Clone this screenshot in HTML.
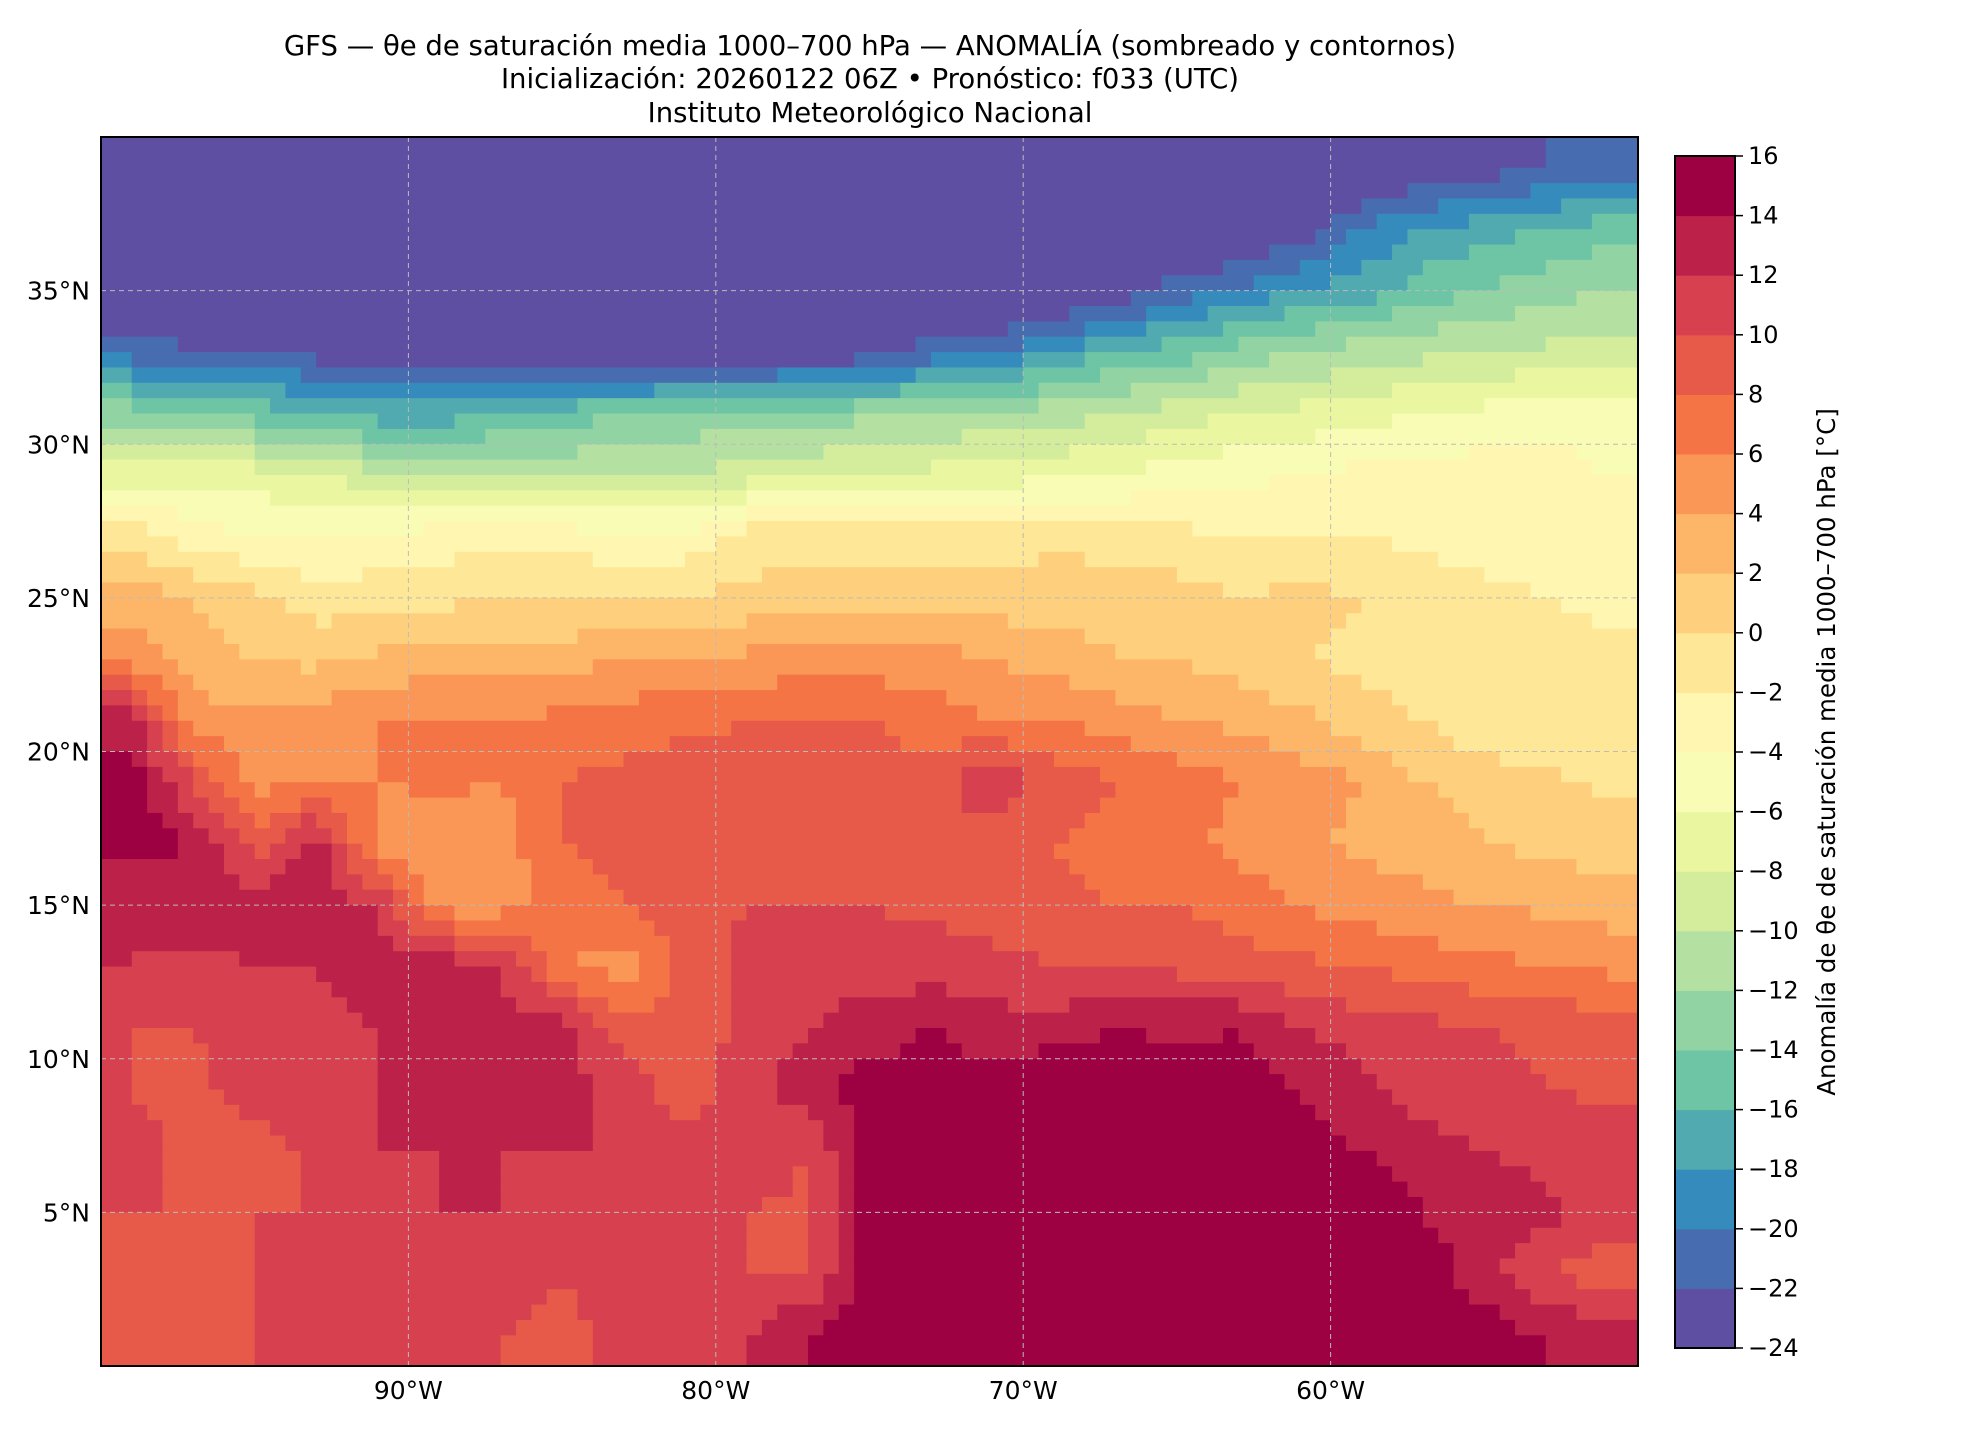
<!DOCTYPE html>
<html><head><meta charset="utf-8">
<style>
body{margin:0;background:#fff;width:1980px;height:1440px;overflow:hidden;font-family:"DejaVu Sans","Liberation Sans",sans-serif;}
svg{position:absolute;left:0;top:0}
</style></head>
<body>
<svg id="chart" width="1980" height="1440" viewBox="0 0 1980 1440" xmlns="http://www.w3.org/2000/svg" font-family="DejaVu Sans, Liberation Sans, sans-serif">
<g font-size="27.5" text-anchor="middle" fill="#000">
<text x="870" y="55">GFS — θe de saturación media 1000–700 hPa — ANOMALÍA (sombreado y contornos)</text>
<text x="870" y="88">Inicialización: 20260122 06Z  •  Pronóstico: f033 (UTC)</text>
<text x="870" y="122">Instituto Meteorológico Nacional</text>
</g>
<defs><clipPath id="mapclip"><rect x="101" y="137" width="1537" height="1229"/></clipPath></defs>
<g id="cells" clip-path="url(#mapclip)"></g>
<g id="grid"></g>
<rect x="101" y="137" width="1537" height="1229" fill="none" stroke="#000" stroke-width="2"/>
<g id="axes" font-size="25"></g>
<g id="cbar" font-size="24"></g>
<text transform="translate(1835,752) rotate(-90)" text-anchor="middle" font-size="24.5">Anomalía de θe de saturación media 1000–700 hPa [°C]</text>
</svg>
<script>
// grid data: rows lat 39..1 step -2, cols lon -99..-51 step 2
const lats=[39,37,35,33,31,29,27,25,23,21,19,17,15,13,11,9,7,5,3,1];
const lons=[-99,-97,-95,-93,-91,-89,-87,-85,-83,-81,-79,-77,-75,-73,-71,-69,-67,-65,-63,-61,-59,-57,-55,-53,-51];
const levels=[-24,-22,-20,-18,-16,-14,-12,-10,-8,-6,-4,-2,0,2,4,6,8,10,12,14,16];
const row39=[-27,-27,-27,-27,-27,-27,-27,-27,-27,-27,-27,-27,-27,-27,-27,-27,-27,-27,-27,-26,-25,-24,-23,-22,-21];
const row37=[-27,-27,-27,-27,-27,-27,-27,-27,-27,-27,-27,-27,-27,-27,-27,-27,-27,-26,-24.5,-23,-20,-18,-17,-16,-15];
const row35=[-26,-26,-26,-26,-26,-26,-26,-26,-26,-26,-26,-26,-26,-26,-26,-25,-24,-21,-20,-18,-17,-15,-14,-13,-12];
const row33=[-21,-21.5,-22,-23,-23.5,-24,-24.5,-24.5,-25,-25,-24.5,-24,-23,-21,-20,-18,-16,-15,-13,-12,-11,-10.5,-10,-9.5,-9];
const row31=[-13,-14,-15,-16,-17,-17,-16,-15,-14,-13.5,-13,-13,-12.5,-12,-11.5,-11,-10,-9,-8,-7.5,-7,-6,-5.5,-5,-5];
const row29=[-7,-6.5,-7,-8,-9.5,-10,-10.5,-10.5,-10,-10,-9,-8.5,-8,-7.5,-7,-6.5,-6,-5,-4.5,-4,-3.5,-3,-3,-3,-4];
const row27=[-1,-3,-4,-4,-3.5,-3,-3,-3,-3.5,-3.5,-1,-1,-1,-1,-1,-0.5,-1,-1.5,-2,-2,-2,-2.5,-3,-3,-3];
const row25=[3,2,0.5,-1,-1,-0.5,0,0,0,0,0.5,1,1,1,1,1,1.5,1,0,0.5,0,-1,-1.5,-2,-2.5];
const row23=[5,3,2,1.5,2.5,3,3,3,4,4.5,4.5,5,5,5,4,3,2,2,1,0,-0.5,-1,-1,-1,-1.5];
const row21=[13,5,4.5,5,6,6,6,6.5,7,7.5,8,8,8,7,6,6,5,4,3.5,2.5,1,0,-1.5,-1.5,-1];
const row19=[15,10,5,6,6,6.5,6,8,8.5,9,8.5,9,9,9,12,9,8,7,6,5,4,2,1,0.5,-0.5];
const row17=[15,14,9,13,5,4,5,8,8.5,9,9,9.5,9.5,9,8.5,8,7,6.5,5.5,4.5,3.5,3,2,1.5,1];
const row15=[12,13,13,13,12,5,5,7,8,9,10,10,10,9.5,9,8.5,8,8,7,6,5,4.5,4,3.5,3];
const row13=[12,11.5,12,12,13,13.5,12,6,5,9,10.5,11,11,11,10.5,10,10,9.5,9,8.5,8,7,6.5,6,5.5];
const row11=[10,10,10.5,11,12,12.5,13,13,9,8,11,12,13,14,13,13,14,13.5,14,12,11,10.5,10,9.5,9];
const row9=[10,9.5,11,11.5,12,12,12.5,13,11,9,11,13,15,15,15,16,16,15.5,15,14,12.5,11,10.5,10,9.5];
const row7=[10.5,9.5,9,10.5,12,12,12,12,12,11,11.5,10,15,16,16,16,16,16,16,15,14,13,12,11.5,11];
const row5=[10,10,10,10,11.5,12,12,11,11,11.5,10,9.5,15,16,16,16,16,16,16,16,15,14,13,12.5,11];
const row3=[9,9.5,10,10,11.5,12,11,10,11,12,10,10,15,16,16,16,16,16,16,16,16,15,13,10,9];
const row1=[9.5,9.5,10,11,11,10,10,9.5,10.5,11.5,12,14,16,16,16,16,16,16,16,16,16,15,15,14,13];
const field=[row39,row37,row35,row33,row31,row29,row27,row25,row23,row21,row19,row17,row15,row13,row11,row9,row7,row5,row3,row1];
const cbTicks=[16,14,12,10,8,6,4,2,0,-2,-4,-6,-8,-10,-12,-14,-16,-18,-20,-22,-24];
const lonTicks=[-90,-80,-70,-60];
const latTicks=[35,30,25,20,15,10,5];

const NS='http://www.w3.org/2000/svg';
const X0=101,X1=1638,Y0=137,Y1=1366,LON0=-100,LON1=-50,LAT0=0,LAT1=40;
function xOf(lon){return X0+(lon-LON0)/(LON1-LON0)*(X1-X0);}
function yOf(lat){return Y1-(lat-LAT0)/(LAT1-LAT0)*(Y1-Y0);}
const anchors=['#9e0142','#d53e4f','#f46d43','#fdae61','#fee08b','#ffffbf','#e6f598','#abdda4','#66c2a5','#3288bd','#5e4fa2'];
function hex(h){return [1,3,5].map(i=>parseInt(h.substr(i,2),16));}
function cmap(t){
  const u=(1-t)*10;const i=Math.min(9,Math.floor(u));const f=u-i;
  const a=hex(anchors[i]),b=hex(anchors[i+1]);
  return 'rgb('+a.map((v,k)=>Math.round(v+(b[k]-v)*f)).join(',')+')';
}
const nb=levels.length-1;
function binColor(k){return cmap(k/(nb-1));}
function colorOf(v){
  let k=Math.floor((v-levels[0])/2);k=Math.max(0,Math.min(nb-1,k));
  return binColor(k);
}
function sample(lon,lat){
  let fi=(lats[0]-lat)/2, fj=(lon-lons[0])/2;
  fi=Math.max(0,Math.min(lats.length-1,fi));fj=Math.max(0,Math.min(lons.length-1,fj));
  const i=Math.min(lats.length-2,Math.floor(fi)),j=Math.min(lons.length-2,Math.floor(fj));
  const a=fi-i,b=fj-j;
  return field[i][j]*(1-a)*(1-b)+field[i][j+1]*(1-a)*b+field[i+1][j]*a*(1-b)+field[i+1][j+1]*a*b;
}
const cells=document.getElementById('cells');
const step=0.5;
for(let lat=LAT1;lat>LAT0;lat-=step){
  let runStart=LON0,runCol=null;
  for(let lon=LON0;lon<=LON1;lon+=step){
    const c=lon<LON1?colorOf(sample(lon+step/2,lat-step/2)):null;
    if(c!==runCol){
      if(runCol){
        const r=document.createElementNS(NS,'rect');
        r.setAttribute('x',xOf(runStart));r.setAttribute('y',yOf(lat));
        r.setAttribute('width',xOf(lon)-xOf(runStart)+0.6);r.setAttribute('height',yOf(lat-step)-yOf(lat)+0.6);
        r.setAttribute('fill',runCol);
        
        
        cells.appendChild(r);
      }
      runStart=lon;runCol=c;
    }
  }
}
const grid=document.getElementById('grid'),axes=document.getElementById('axes');
lonTicks.forEach(l=>{
  const ln=document.createElementNS(NS,'line');
  ln.setAttribute('x1',xOf(l));ln.setAttribute('x2',xOf(l));ln.setAttribute('y1',Y0);ln.setAttribute('y2',Y1);
  ln.setAttribute('stroke','#bbb');ln.setAttribute('stroke-dasharray','5,4');ln.setAttribute('stroke-width','1');
  
  
  grid.appendChild(ln);
  const t=document.createElementNS(NS,'text');
  t.setAttribute('x',xOf(l));t.setAttribute('y',1399);t.setAttribute('text-anchor','middle');
  t.textContent=Math.abs(l)+'°W';
  
  
  axes.appendChild(t);
});
latTicks.forEach(l=>{
  const ln=document.createElementNS(NS,'line');
  ln.setAttribute('x1',X0);ln.setAttribute('x2',X1);ln.setAttribute('y1',yOf(l));ln.setAttribute('y2',yOf(l));
  ln.setAttribute('stroke','#bbb');ln.setAttribute('stroke-dasharray','5,4');ln.setAttribute('stroke-width','1');
  
  
  grid.appendChild(ln);
  const t=document.createElementNS(NS,'text');
  t.setAttribute('x',90);t.setAttribute('y',yOf(l)+9);t.setAttribute('text-anchor','end');
  t.textContent=l+'°N';
  
  
  axes.appendChild(t);
});
const cb=document.getElementById('cbar');
const CX=1675,CW=60,CT=156,CB=1348;
function cy(v){return CB-(v-levels[0])/(levels[nb]-levels[0])*(CB-CT);}
for(let k=0;k<nb;k++){
  const r=document.createElementNS(NS,'rect');
  r.setAttribute('x',CX);r.setAttribute('y',cy(levels[k+1]));r.setAttribute('width',CW);
  r.setAttribute('height',cy(levels[k])-cy(levels[k+1])+0.5);r.setAttribute('fill',binColor(k));
  
  
  cb.appendChild(r);
}
const fr=document.createElementNS(NS,'rect');
fr.setAttribute('x',CX);fr.setAttribute('y',CT);fr.setAttribute('width',CW);fr.setAttribute('height',CB-CT);
fr.setAttribute('fill','none');fr.setAttribute('stroke','#000');fr.setAttribute('stroke-width','2');


cb.appendChild(fr);
cbTicks.forEach(v=>{
  const ln=document.createElementNS(NS,'line');
  ln.setAttribute('x1',CX+CW);ln.setAttribute('x2',CX+CW+8);ln.setAttribute('y1',cy(v));ln.setAttribute('y2',cy(v));
  ln.setAttribute('stroke','#000');ln.setAttribute('stroke-width','1.5');
  
  
  cb.appendChild(ln);
  const t=document.createElementNS(NS,'text');
  t.setAttribute('x',CX+CW+13);t.setAttribute('y',cy(v)+8);
  t.textContent=v<0?'−'+Math.abs(v):String(v);
  
  
  cb.appendChild(t);
});
</script>
</body></html>
